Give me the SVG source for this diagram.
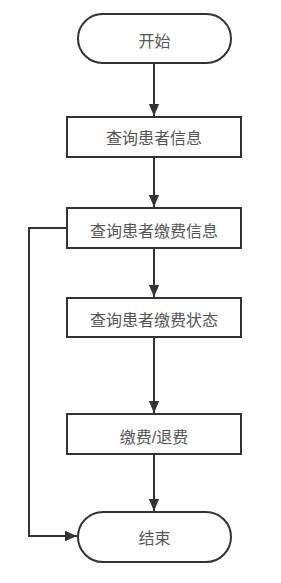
<svg xmlns="http://www.w3.org/2000/svg" width="281" height="583" viewBox="0 0 281 583">
<style>
.n{fill:#fff;stroke:#333;stroke-width:2}
.t{font-family:"Liberation Sans","Noto Sans CJK SC",sans-serif;font-size:16px;fill:#555;text-anchor:middle;dominant-baseline:central}
.c{fill:none;stroke:#333;stroke-width:2}
</style>
<defs>
<marker id="a" markerWidth="12" markerHeight="14" refX="14" refY="6" viewBox="0 0 14 12" orient="auto" markerUnits="userSpaceOnUse">
<path d="M0,0 L14,6 L0,12 Z" fill="#333"/>
</marker>
</defs>
<rect width="281" height="583" fill="#fff"/>
<g id="connectors">
<path class="c" d="M154,63 V116" marker-end="url(#a)"/>
<path class="c" d="M154,157 V207" marker-end="url(#a)"/>
<path class="c" d="M154,248 V297" marker-end="url(#a)"/>
<path class="c" d="M154,337 V413" marker-end="url(#a)"/>
<path class="c" d="M154,454 V511" marker-end="url(#a)"/>
<path class="c" d="M67,228 H29 V536 H77" marker-end="url(#a)"/>
</g>
<g id="start"><rect class="n" x="78" y="14" width="153" height="49" rx="24.5"/><text class="t" x="154.5" y="41">开始</text></g>
<g id="n1"><rect class="n" x="67" y="117" width="174" height="40"/><text class="t" x="154" y="138">查询患者信息</text></g>
<g id="n2"><rect class="n" x="67" y="208" width="174" height="40"/><text class="t" x="154" y="231">查询患者缴费信息</text></g>
<g id="n3"><rect class="n" x="67" y="298" width="174" height="39"/><text class="t" x="154" y="320">查询患者缴费状态</text></g>
<g id="n4"><rect class="n" x="67" y="414" width="174" height="40"/><text class="t" x="154" y="437">缴费/退费</text></g>
<g id="end"><rect class="n" x="78" y="512" width="153" height="50" rx="25"/><text class="t" x="154.5" y="538">结束</text></g>
</svg>
